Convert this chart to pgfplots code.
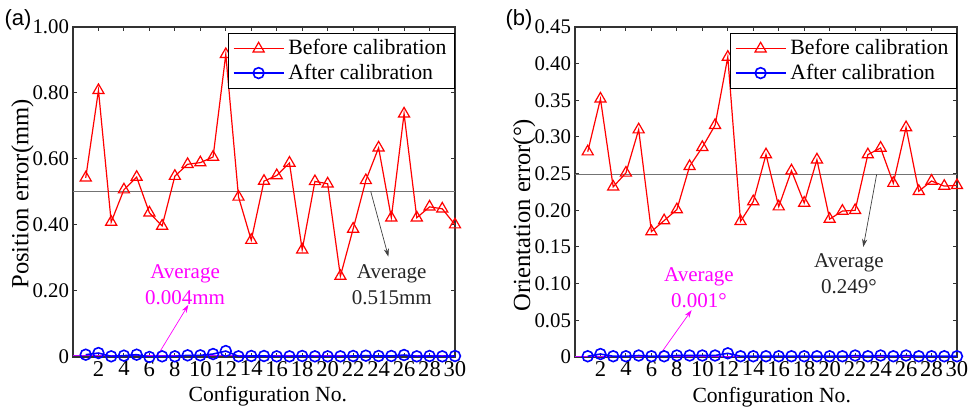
\documentclass[border=0pt]{standalone}
\usepackage{fontspec}
\setmainfont{Liberation Serif}
\newfontfamily\tnr{Liberation Serif}
\newfontfamily\arl{Liberation Sans}
\usepackage{pgfplots}
\pgfplotsset{compat=1.18}
\usetikzlibrary{arrows.meta}
\definecolor{cRed}{RGB}{255,0,0}
\definecolor{cBlue}{RGB}{0,0,255}
\definecolor{cMag}{RGB}{255,0,255}

\pgfplotsset{errax/.style={
  scale only axis, width=191pt, height=165pt,
  xmin=0, xmax=30, xtick={2,4,...,30},
  xticklabels={2,4,6,8,10,12,14,16,18,20,22,24,26,28,30},
  tick align=inside, major tick length=2pt,
  axis line style={line width=0.6pt, black!80},
  every tick/.style={black!80, line width=0.5pt},
  xticklabel style={font=\tnr\fontsize{11.3}{12}\selectfont, yshift=1.5pt},
  yticklabel style={font=\tnr\fontsize{10.4}{12}\selectfont, xshift=1.5pt},
  xlabel style={font=\tnr\fontsize{10.8}{12}\selectfont, anchor=center},
  ylabel style={font=\tnr\fontsize{12.3}{14}\selectfont, anchor=center},
  legend style={at={(1,0.982)}, anchor=north east, draw=black, line width=0.6pt,
    font=\tnr\fontsize{10.9}{12}\selectfont, inner xsep=2pt, inner ysep=1pt, row sep=-1pt},
  legend cell align=left,
  legend image code/.code={\draw[mark repeat=2,mark phase=2] plot coordinates {(0pt,0pt)(12.5pt,0pt)(25pt,0pt)};},
  before/.style={cRed, line width=0.6pt, mark=triangle, mark size=3.2pt},
  after/.style={cBlue, line width=0.8pt, mark=o, mark size=2.7pt},
}}
\tikzset{note/.style={font=\tnr\fontsize{10.5}{13}\selectfont, align=center},
  arr/.style={-{Stealth[length=4pt,width=2.6pt]}, line width=0.35pt}}

\begin{document}
\begin{tikzpicture}
\useasboundingbox (0,0) rectangle (485.5pt,-205pt);

% (a) position error
\begin{axis}[errax, at={(36.5pt,-13.5pt)}, anchor=north west,
  ymin=0, ymax=1, ytick={0,0.2,0.4,0.6,0.8,1}, yticklabels={0,0.20,0.40,0.60,0.80,1.00},
  xlabel={Configuration No.}, ylabel={Position error(mm)},
  xlabel style={at={(axis description cs:0.51,-0.12)}},
  ylabel style={at={(axis description cs:-0.132,0.494)}},
]
\draw[black!55, line width=0.6pt] (axis cs:0,0.502) -- (axis cs:30,0.502);
\draw[cMag!75!blue, line width=0.7pt] (axis cs:0,0.004) -- (axis cs:30,0.004);
\addplot[before] coordinates {(1,0.543)(2,0.808)(3,0.409)(4,0.507)(5,0.545)(6,0.437)(7,0.397)(8,0.548)(9,0.584)(10,0.589)
  (11,0.606)(12,0.917)(13,0.485)(14,0.354)(15,0.533)(16,0.550)(17,0.588)(18,0.325)(19,0.532)(20,0.525)
  (21,0.245)(22,0.388)(23,0.535)(24,0.634)(25,0.422)(26,0.737)(27,0.422)(28,0.455)(29,0.449)(30,0.401)};
\addlegendentry{Before calibration}
\addplot[after] coordinates {(1,0.007)(2,0.012)(3,0.002)(4,0.004)(5,0.007)(6,0.000)(7,0.002)(8,0.002)(9,0.005)(10,0.005)
  (11,0.009)(12,0.018)(13,0.002)(14,0.003)(15,0.003)(16,0.002)(17,0.002)(18,0.003)(19,0.002)(20,0.002)
  (21,0.002)(22,0.003)(23,0.004)(24,0.003)(25,0.003)(26,0.006)(27,0.002)(28,0.003)(29,0.002)(30,0.003)};
\addlegendentry{After calibration}
\node[note, text=cMag] at (axis cs:8.8,0.218) {Average\\0.004mm};
\node[note, text=black!85] at (axis cs:25.03,0.218) {Average\\0.515mm};
\draw[arr, cMag] (axis cs:6.57,0) -- (axis cs:9.06,0.158);
\draw[arr, black!75] (axis cs:23.38,0.502) -- (axis cs:24.77,0.304);
\end{axis}

% (b) orientation error
\begin{axis}[errax, at={(287.5pt,-13.5pt)}, anchor=north west,
  ymin=0, ymax=0.45, ytick={0,0.05,...,0.45},
  yticklabels={0,0.05,0.10,0.15,0.20,0.25,0.30,0.35,0.40,0.45},
  xlabel={Configuration No.}, ylabel={Orientation error(°)},
  xlabel style={at={(axis description cs:0.515,-0.122)}},
  ylabel style={at={(axis description cs:-0.133,0.43)}},
]
\draw[black!55, line width=0.6pt] (axis cs:0,0.249) -- (axis cs:30,0.249);
\draw[cMag!75!blue, line width=0.7pt] (axis cs:0,0.001) -- (axis cs:30,0.001);
\addplot[before] coordinates {(1,0.280)(2,0.352)(3,0.232)(4,0.251)(5,0.310)(6,0.171)(7,0.186)(8,0.201)(9,0.260)(10,0.286)
  (11,0.316)(12,0.409)(13,0.185)(14,0.212)(15,0.276)(16,0.205)(17,0.254)(18,0.210)(19,0.269)(20,0.188)
  (21,0.199)(22,0.200)(23,0.276)(24,0.285)(25,0.237)(26,0.313)(27,0.226)(28,0.240)(29,0.233)(30,0.234)};
\addlegendentry{Before calibration}
\addplot[after] coordinates {(1,0.001)(2,0.004)(3,0.001)(4,0.001)(5,0.002)(6,0.001)(7,0.001)(8,0.002)(9,0.002)(10,0.002)
  (11,0.002)(12,0.005)(13,0.001)(14,0.001)(15,0.001)(16,0.001)(17,0.001)(18,0.001)(19,0.001)(20,0.001)
  (21,0.001)(22,0.002)(23,0.001)(24,0.002)(25,0.001)(26,0.002)(27,0.001)(28,0.001)(29,0.001)(30,0.001)};
\addlegendentry{After calibration}
\node[note, text=cMag] at (axis cs:9.74,0.094) {Average\\0.001°};
\node[note, text=black!85] at (axis cs:21.52,0.113) {Average\\0.249°};
\draw[arr, cMag] (axis cs:6.54,0) -- (axis cs:9.16,0.064);
\draw[arr, black!75] (axis cs:23.69,0.249) -- (axis cs:22.64,0.150);
\end{axis}

\node[font=\arl\fontsize{11}{12}\selectfont] at (9pt,-10pt) {(a)};
\node[font=\arl\fontsize{11}{12}\selectfont] at (259.5pt,-10pt) {(b)};
\end{tikzpicture}
\end{document}
